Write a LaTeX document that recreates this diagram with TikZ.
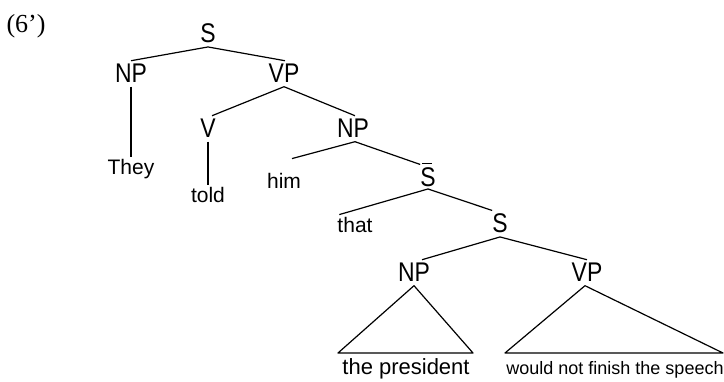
\documentclass[tikz,border=0pt]{standalone}
\usepackage{fontspec}
\setmainfont{Liberation Sans}
\newfontfamily\catfont[FakeStretch=0.85]{Liberation Sans}
\newfontfamily\exfont{Liberation Serif}
\usetikzlibrary{calc}

\begin{document}
\begin{tikzpicture}[x=1pt,y=-1pt,
  cat/.style={inner xsep=0pt, inner ysep=3.5pt, anchor=base,
    font=\catfont\fontsize{27}{30}\selectfont},
  word/.style={inner xsep=0pt, inner ysep=3pt, anchor=base,
    font=\fontsize{21}{24}\selectfont},
  branch/.style={line width=1.2pt, line join=round},
]
\useasboundingbox (0,0) rectangle (724,382);

% example number
\node[inner sep=0pt, anchor=base, font=\exfont\fontsize{26}{29}\selectfont] (ex) at (26,33) {(6’)};

% categories
\node[cat] (S)    at (208,43)  {S};
\node[cat] (NPa)  at (131,83)  {NP};
\node[cat] (VPa)  at (284,83)  {VP};
\node[cat] (V)    at (208,138) {V};
\node[cat] (NPb)  at (353,138) {NP};
\node[cat] (Sbar) at (428,187)
  {\smash{\makebox[0pt][l]{\hspace{2pt}\raisebox{23pt}{\rule{10pt}{1.2pt}}}}S};
\node[cat] (Sb)   at (500,233) {S};
\node[cat] (NPc)  at (414,282) {NP};
\node[cat] (VPc)  at (587,282) {VP};

% words
\node[word] (they) at (131,175) {They};
\node[word] (told) at (208,203) {told};
\node[word] (him)  at (284,189) {him};
\node[word] (that) at (355,233) {that};
\node[word, font=\fontsize{22}{25}\selectfont] (pres) at (406,375) {the president};
\node[word, font=\fontsize{18}{21}\selectfont] (speech) at (615,375) {would not finish the speech};

% triangle bases
\coordinate (npL) at (338,353);
\coordinate (npR) at (473,353);
\coordinate (vpL) at (505,353);
\coordinate (vpR) at (723,353);

% branches
\draw[branch] (S.south) -- (NPa.north);
\draw[branch] (S.south) -- ([xshift=1pt]VPa.north);
\draw[branch] (NPa.south) -- (they.north);
\draw[branch] (VPa.south) -- ([xshift=4pt]V.north);
\draw[branch] (VPa.south) -- ([xshift=2pt]NPb.north);
\draw[branch] (V.south) -- (told.north);
\draw[branch] ([xshift=2pt]NPb.south) -- ($(him.north)+(8,-12)$);
\draw[branch] ([xshift=2pt]NPb.south) -- (Sbar.north west);
\draw[branch] ([yshift=2pt]Sbar.south) -- ([xshift=2pt]that.north west);
\draw[branch] ([yshift=2pt]Sbar.south) -- (Sb.north west);
\draw[branch] (Sb.south) -- ([xshift=8pt]NPc.north);
\draw[branch] (Sb.south) -- (VPc.north);
\draw[branch] (NPc.south) -- (npL) -- (npR) -- cycle;
\draw[branch] ([xshift=-2pt]VPc.south) -- (vpL) -- (vpR) -- cycle;
\end{tikzpicture}
\end{document}
